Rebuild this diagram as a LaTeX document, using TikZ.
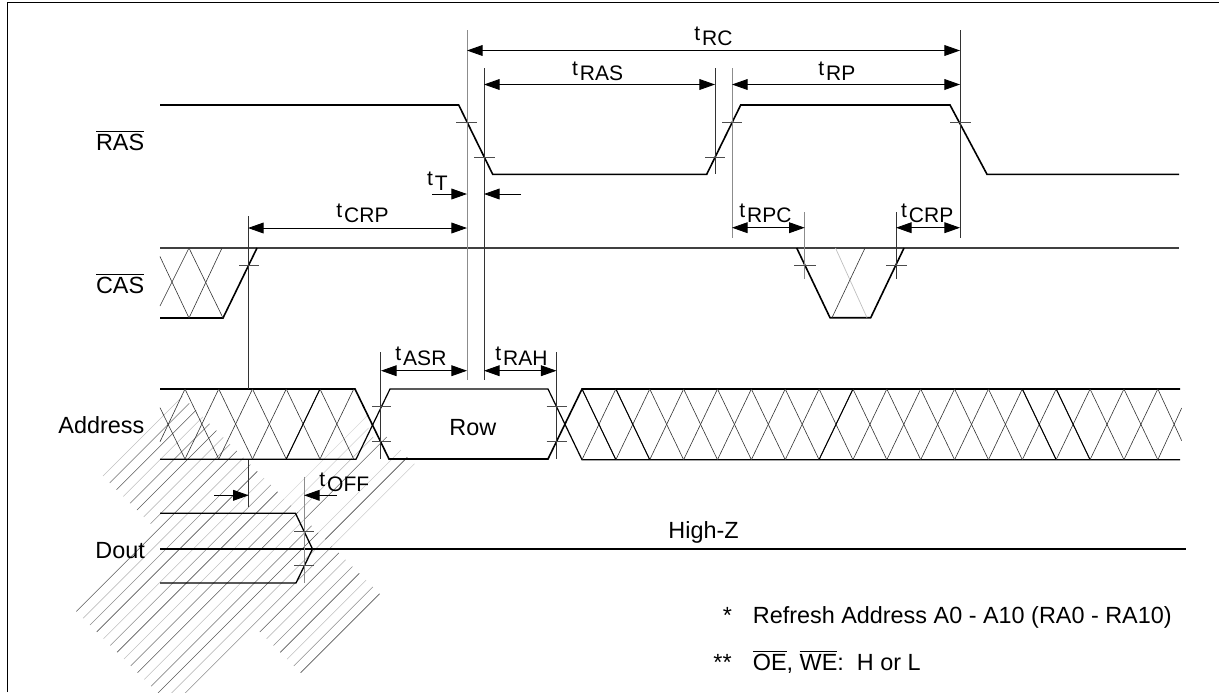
\documentclass[tikz,border=0pt]{standalone}
\usepackage{fontspec}
\setmainfont{Liberation Sans}
\usetikzlibrary{arrows.meta}
\def\hatchstep{13.6}
\newcommand{\tsub}[1]{t\kern1pt\raisebox{-2.5pt}{#1}}
\newcommand{\ovl}[1]{\leavevmode\vbox{\hrule height 0.35pt\kern 1.1pt\hbox{#1}}}

\begin{document}
\begin{tikzpicture}[x=0.5pt,y=-0.5pt]
    \tikzstyle{signal}=[draw=black,line width=0.8pt,line join=miter]
    \tikzstyle{cross}=[draw=black!80,line width=0.3pt]
    \tikzstyle{crossbold}=[draw=black,line width=0.5pt]
    \tikzstyle{tick}=[draw=black!70,line width=0.35pt]
    \tikzstyle{guide}=[draw=black!45,line width=0.5pt]
    \tikzstyle{guide dark}=[draw=black!80,line width=0.4pt]
    \tikzstyle{dim}=[draw=black,line width=0.45pt,{Triangle[length=7.8pt,width=5.4pt]}-{Triangle[length=7.8pt,width=5.4pt]}]
    \tikzstyle{dim in}=[draw=black,line width=0.45pt,-{Triangle[length=7.8pt,width=5.4pt]}]
    \tikzstyle{label}=[anchor=base west,inner sep=0pt,font=\fontsize{11.7}{14}\selectfont]
    \tikzstyle{tlabel}=[anchor=base west,inner sep=0pt,font=\fontsize{10.5}{12}\selectfont]

    \useasboundingbox (0,0) rectangle (1219,692);

    % Draw the frame
    \draw[line width=0.4pt] (7.5,692) -- (7.5,2.3) -- (1219,2.3);

    % Draw the hatched area
    \begin{scope}
        \clip (0,0) rectangle (1219,692);
        \foreach \k [evaluate=\k as \tone using {int(25+20*mod(\k,3))}] in {0,...,29} {
            \pgfmathsetmacro\c{579+\hatchstep*\k}
            \pgfmathsetmacro\low{ifthenelse(\k<8,-373,ifthenelse(\k<23,-535,-372))}
            \draw[draw=black!\tone,line width=0.3pt] ({(\c+\low)/2},{(\c-\low)/2}) -- ({(\c-214)/2},{(\c+214)/2});
        }
        % Some hatch lines run on further up
        \foreach \k/\ytop/\tone in {15/416/15,16/428/15,17/437/30,18/437/60,20/450/20,21/457.3/70,22/463.7/20} {
            \pgfmathsetmacro\c{579+\hatchstep*\k}
            \draw[draw=black!\tone,line width=0.3pt] ({(\c-214)/2},{(\c+214)/2}) -- ({\c-\ytop},\ytop);
        }
    \end{scope}

    % Draw the RAS signal
    \draw[signal] (160,105) -- (458.7,105) -- (492.7,174.3) -- (706.7,174.3) -- (740.7,105)
        -- (950,105) -- (987,174.3) -- (1179,174.3);

    % Draw the CAS signal
    \draw[draw=black!75,line width=0.6pt] (160,248) -- (1179,248);
    \draw[signal] (160,318) -- (223,318) -- (257,248);
    \draw[signal] (796.7,248) -- (830,317.7) -- (870.7,317.7) -- (904,248);
    \draw[cross] (160,256.6) -- (189,318) -- (222,248);
    \draw[cross] (160,306) -- (189,248) -- (223,318);
    \draw[draw=black!25,line width=0.35pt] (835.5,248) -- (867,317.7);
    \draw[cross] (865,248) -- (832,317.7);

    % Draw the Address signal
    \draw[signal] (160,389) -- (355,389) -- (389,459) -- (548,459) -- (582,389) -- (1180,389);
    \draw[signal,line width=0.6pt] (160,459.3) -- (356,459.3) -- (390,389) -- (548,389) -- (582,459.7) -- (1180,459.7);
    \draw[cross] (160,407.7) -- (185,459);
    \draw[cross] (160,441.7) -- (185,389);
    \foreach \a [evaluate=\a as \xa using {185+33.75*\a},evaluate=\a as \xb using {185+33.75*(\a+1)}] in {0,...,4} {
        \draw[cross] (\xa,389) -- (\xb,459);
        \draw[cross] (\xa,459) -- (\xb,389);
    }
    \draw[crossbold] (286.3,459) -- (320,389);
    \foreach \a [evaluate=\a as \xa using {582+33.87*\a},evaluate=\a as \xb using {582+33.87*(\a+1)}] in {0,...,16} {
        \draw[cross] (\xa,389) -- (\xb,459.7);
        \draw[cross] (\xa,459.7) -- (\xb,389);
    }
    \foreach \a [evaluate=\a as \xa using {582+33.87*\a},evaluate=\a as \xb using {582+33.87*(\a+1)}] in {0,1,13,14}
        \draw[crossbold] (\xa,389) -- (\xb,459.7);
    \draw[crossbold] (819,459.7) -- (853,389);
    \draw[cross] (1157.8,459.7) -- (1181.7,408);
    \draw[cross] (1157.8,389) -- (1181.7,440.7);

    % Draw the Dout signal
    \draw[signal,line width=0.65pt] (160,513.3) -- (295.5,513.3) -- (312.5,549) -- (296,583) -- (160,583);
    \draw[signal,line width=1pt] (160,549) -- (1186,549);

    % Draw the guide lines
    \foreach \x/\ya/\yb/\kind in {467/30/380/guide,484/68/380/guide dark,715/68/174/guide dark,732/68/238/guide,
        960/30/238/guide dark,804.7/212/279/guide,896/212/279/guide dark,248/216/389/guide dark,
        248.7/460/507/guide dark,380.5/352/459/guide dark,556.5/352/459/guide dark,304/476.7/583/guide}
        \draw[\kind] (\x,\ya) -- (\x,\yb);

    % Draw the level ticks
    \foreach \xa/\xb/\y in {456/477/122.5,474/495/157,705/725/157,722/742/122.5,950/971/122.5,
        239/259/265,794/815.5/265,886/907/265,
        372/391/406.7,372/391/441,546.7/566.7/406.7,546.7/566.7/441,
        294/314/531,294/314/565.7}
        \draw[tick] (\xa,\y) -- (\xb,\y);

    % Draw the timing arrows
    \foreach \name/\xa/\xb/\y in {RC/467/960/50.5,RAS/484/715/84.5,RP/732/960/84.5,
        CRPa/248/467/228,RPC/732/804.7/227.7,CRPb/896/960/227.7,
        ASR/381/467/370.7,RAH/484/556.5/370.7}
        \draw[dim] (\xa,\y) coordinate (\name-l) -- (\xb,\y) coordinate (\name-r);
    \draw[dim in] (432,194) coordinate (Ta) -- (467,194);
    \draw[dim in] (521,194) coordinate (Tb) -- (484,194);
    \draw[dim in] (214,495.3) coordinate (OFFa) -- (248.7,495.3);
    \draw[dim in] (336.7,495.3) coordinate (OFFb) -- (304,495.3);

    % Annotate the timings
    \foreach \name/\x/\y in {RC/694/40.7,RAS/571.7/75,RP/818/75,T/426.7/185,CRP/336/217,RPC/739/217.3,
        ASR/395/360.7,RAH/495/360.7,OFF/319/486.7}
        \node[tlabel] (t-\name) at (\x,\y) {\tsub{\name}};
    \node[tlabel] (t-CRPb) at (900.7,217.3) {\tsub{CRP}};

    % Annotate the signals
    \node[label] (lRAS) at (95.7,150) {\ovl{RAS}};
    \node[label] (lCAS) at (95.7,293) {\ovl{CAS}};
    \node[label] (lAddress) at (58,433) {Address};
    \node[label] (lDout) at (95,558) {Dout};
    \node[label] (lRow) at (449,435) {Row};
    \node[label] (lHighZ) at (668,538.3) {High-Z};
    \node[label] (star) at (722.5,623.3) {*};
    \node[label] (lRefresh) at (752.5,623.3) {Refresh Address A0 - A10 (RA0 - RA10)};
    \node[label] (stars) at (713,670) {**};
    \node[label] (lOEWE) at (752.5,670) {\ovl{OE}, \ovl{WE}:\ \ H or L};
\end{tikzpicture}
\end{document}
